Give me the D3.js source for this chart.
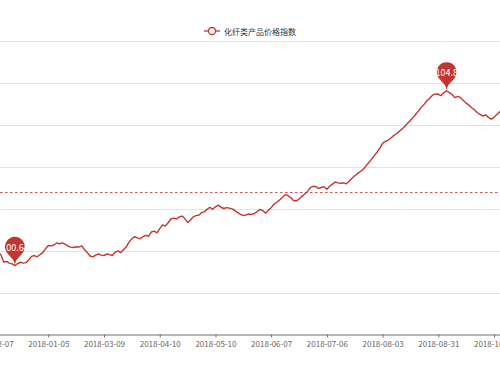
<!DOCTYPE html>
<html>
<head>
<meta charset="utf-8">
<script src="https://cdn.jsdelivr.net/npm/d3@7"></script>
<style>
body { margin: 0; background: #fff; }
svg { display: block; }
text { font-family: "Microsoft YaHei", "Noto Sans CJK SC", sans-serif; }
</style>
</head>
<body>
<svg id="chart" width="500" height="375"></svg>
<script>
// series name (legend)
var seriesName = '化纤类产品价格指数';

// price index, one value per trading day starting 2017-12-07
var values = [
  101.02, 101.00, 100.95, 100.90, 100.72, 100.74, 100.70, 100.68, 100.64, 100.69,
  100.72, 100.70, 100.71, 100.78, 100.86, 100.88, 100.85, 100.90, 100.95, 101.04,
  101.12, 101.11, 101.13, 101.18, 101.16, 101.18, 101.15, 101.11, 101.08, 101.07,
  101.09, 101.08, 101.11, 101.02, 100.95, 100.87, 100.85, 100.89, 100.92, 100.89,
  100.88, 100.92, 100.90, 100.88, 100.96, 100.99, 100.95, 101.02, 101.09, 101.20,
  101.28, 101.33, 101.30, 101.28, 101.33, 101.36, 101.34, 101.44, 101.46, 101.42,
  101.52, 101.61, 101.58, 101.66, 101.75, 101.77, 101.75, 101.80, 101.82, 101.76,
  101.67, 101.72, 101.80, 101.83, 101.84, 101.90, 101.92, 101.98, 102.03, 101.98,
  102.04, 102.08, 102.03, 102.00, 102.02, 102.01, 101.99, 101.95, 101.90, 101.86,
  101.83, 101.85, 101.87, 101.86, 101.88, 101.93, 101.98, 101.95, 101.89, 101.96,
  102.02, 102.10, 102.15, 102.20, 102.26, 102.33, 102.31, 102.26, 102.19, 102.18,
  102.22, 102.29, 102.34, 102.40, 102.49, 102.53, 102.52, 102.48, 102.50, 102.52,
  102.46, 102.53, 102.58, 102.63, 102.61, 102.60, 102.61, 102.59, 102.65, 102.72,
  102.78, 102.83, 102.88, 102.93, 103.01, 103.09, 103.17, 103.26, 103.34, 103.44,
  103.55, 103.60, 103.63, 103.68, 103.74, 103.78, 103.84, 103.89, 103.96, 104.03,
  104.10, 104.17, 104.25, 104.33, 104.42, 104.49, 104.57, 104.63, 104.70, 104.73,
  104.72, 104.69, 104.76, 104.80, 104.76, 104.71, 104.64, 104.67, 104.64, 104.57,
  104.51, 104.46, 104.40, 104.35, 104.28, 104.24, 104.20, 104.23, 104.17, 104.13,
  104.17, 104.24, 104.30, 104.35
];

// x axis labels, shown every 20 points
var tickLabels = ['2017-12-07', '2018-01-05', '2018-03-09', '2018-04-10', '2018-05-10',
                  '2018-06-07', '2018-07-06', '2018-08-03', '2018-08-31', '2018-10-08'];
var tickEvery = 20;

// y axis grid values
var yTicks = [99, 100, 101, 102, 103, 104, 105, 106];

// average mark line value
var averageValue = 102.38;

var color = '#c23531';
var svg = d3.select('#chart');

// the plot area starts left of the window (y labels are cut off)
var x = d3.scaleLinear().domain([0, 180]).range([-7.4, 494]);
var y = d3.scaleLinear().domain([99, 106]).range([334.5, 40.5]);

// grid lines
svg.append('g').selectAll('line')
  .data(yTicks.slice(1))
  .enter().append('line')
  .attr('x1', -60).attr('x2', 560)
  .attr('y1', function(d) { return Math.round(y(d)) + 0.5; })
  .attr('y2', function(d) { return Math.round(y(d)) + 0.5; })
  .attr('stroke', '#e3e3e3')
  .attr('stroke-width', 1);

// x axis
var xAxis = d3.axisBottom(x)
  .tickValues(d3.range(tickLabels.length).map(function(i) { return i * tickEvery; }))
  .tickFormat(function(d) { return tickLabels[d / tickEvery]; })
  .tickSizeInner(3)
  .tickSizeOuter(0)
  .tickPadding(4);

var gx = svg.append('g')
  .attr('transform', 'translate(0,' + y(99) + ')')
  .call(xAxis);
gx.select('.domain').attr('stroke', '#6e6e6e').attr('d', 'M-60,0.5H560');
gx.selectAll('.tick line').attr('stroke', '#6e6e6e');
gx.selectAll('.tick text')
  .attr('fill', '#666')
  .style('font-size', '8px')
  .style('font-family', '"Microsoft YaHei", "Noto Sans CJK SC", sans-serif');

// average line
svg.append('line')
  .attr('x1', -60).attr('x2', 560)
  .attr('y1', y(averageValue)).attr('y2', y(averageValue))
  .attr('stroke', color)
  .attr('stroke-width', 1)
  .attr('stroke-dasharray', '2.5,2.5')
  .attr('opacity', 0.85);

// series line
var line = d3.line()
  .x(function(d, i) { return x(i); })
  .y(function(d) { return y(d); });

svg.append('path')
  .datum(values)
  .attr('d', line)
  .attr('fill', 'none')
  .attr('stroke', color)
  .attr('stroke-width', 1.4)
  .attr('stroke-linejoin', 'round');

// pin marker (same shape echarts uses for markPoint)
function pinPath(px, py, size) {
  var w = size / 5 * 3;
  var h = Math.max(w, size);
  var r = w / 2;
  var dy = r * r / (h - r);
  var cy = py - h + r + dy;
  var angle = Math.asin(dy / r);
  var dx = Math.cos(angle) * r;
  var tanX = Math.sin(angle), tanY = Math.cos(angle);
  var cpLen = r * 0.6, cpLen2 = r * 0.7;
  var p = d3.path();
  p.moveTo(px - dx, cy + dy);
  p.arc(px, cy, r, Math.PI - angle, Math.PI * 2 + angle);
  p.bezierCurveTo(px + dx - tanX * cpLen, cy + dy + tanY * cpLen, px, py - cpLen2, px, py);
  p.bezierCurveTo(px, py - cpLen2, px - dx + tanX * cpLen, cy + dy + tanY * cpLen, px - dx, cy + dy);
  p.closePath();
  return p.toString();
}

var maxV = d3.max(values), minV = d3.min(values);
var marks = [
  { i: values.indexOf(maxV), v: maxV },
  { i: values.indexOf(minV), v: minV }
];

var pins = svg.append('g').selectAll('g')
  .data(marks)
  .enter().append('g');

pins.append('path')
  .attr('d', function(d) { return pinPath(x(d.i), y(d.v), 33); })
  .attr('fill', color);

pins.append('text')
  .attr('x', function(d) { return x(d.i); })
  .attr('y', function(d) { return y(d.v) - 18; })
  .attr('text-anchor', 'middle')
  .attr('dominant-baseline', 'central')
  .attr('fill', '#fff')
  .style('font-size', '9px')
  .text(function(d) { return d3.format('')(+d.v.toFixed(2)); });

// legend
var lg = svg.append('g').attr('transform', 'translate(204,31)');
lg.append('line')
  .attr('x1', 0).attr('x2', 16)
  .attr('y1', 0).attr('y2', 0)
  .attr('stroke', color).attr('stroke-width', 1.3);
lg.append('circle')
  .attr('cx', 8).attr('cy', 0).attr('r', 3.5)
  .attr('fill', '#fff').attr('stroke', color).attr('stroke-width', 1.3);
lg.append('text')
  .attr('x', 20).attr('y', 0)
  .attr('dominant-baseline', 'central')
  .attr('fill', '#333')
  .style('font-size', '8px')
  .text(seriesName);
</script>
</body>
</html>
